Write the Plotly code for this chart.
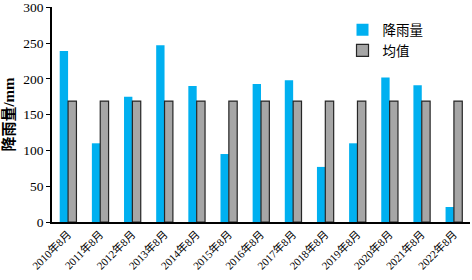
import plotly.graph_objects as go

categories = ["2010年8月", "2011年8月", "2012年8月", "2013年8月", "2014年8月", "2015年8月",
              "2016年8月", "2017年8月", "2018年8月", "2019年8月", "2020年8月", "2021年8月", "2022年8月"]
rainfall = [239, 110, 175, 247, 190, 95, 193, 198, 77, 110, 202, 191, 21]
mean_val = [169] * 13
y_ticks = [0, 50, 100, 150, 200, 250, 300]

font_family = "Liberation Serif, Times New Roman, Noto Sans CJK SC"

fig = go.Figure()
fig.add_trace(go.Bar(x=categories, y=rainfall, name="降雨量",
                     marker=dict(color="#00B0F0", line=dict(width=0))))
fig.add_trace(go.Bar(x=categories, y=mean_val, name="均值",
                     marker=dict(color="#A6A6A6", line=dict(color="#262626", width=1.2))))

fig.update_layout(
    width=472, height=280,
    margin=dict(l=52, r=2, t=7, b=58, autoexpand=False),
    plot_bgcolor="white", paper_bgcolor="white",
    barmode="group", bargap=0.48, bargroupgap=0,
    font=dict(family=font_family, size=12, color="black"),
    showlegend=True,
    legend=dict(x=0.695, y=0.965, xanchor="left", yanchor="top",
                font=dict(size=13.5), bgcolor="rgba(0,0,0,0)",
                itemwidth=30),
    xaxis=dict(showline=True, linecolor="black", linewidth=1.5, ticks="",
               tickangle=-45, tickfont=dict(size=11)),
    yaxis=dict(range=[0, 300.5], tickvals=y_ticks, showline=True, linecolor="black", linewidth=1.5,
               ticks="outside", ticklen=4, tickcolor="black", showgrid=False, zeroline=False,
               ticklabeloverflow="allow",
               title=dict(text="<b>降雨量/mm</b>", font=dict(size=15), standoff=5),
               tickfont=dict(size=13.5)),
)

fig.write_html("out.html", config={"displayModeBar": False},
               post_script="document.body.style.margin='0';")
